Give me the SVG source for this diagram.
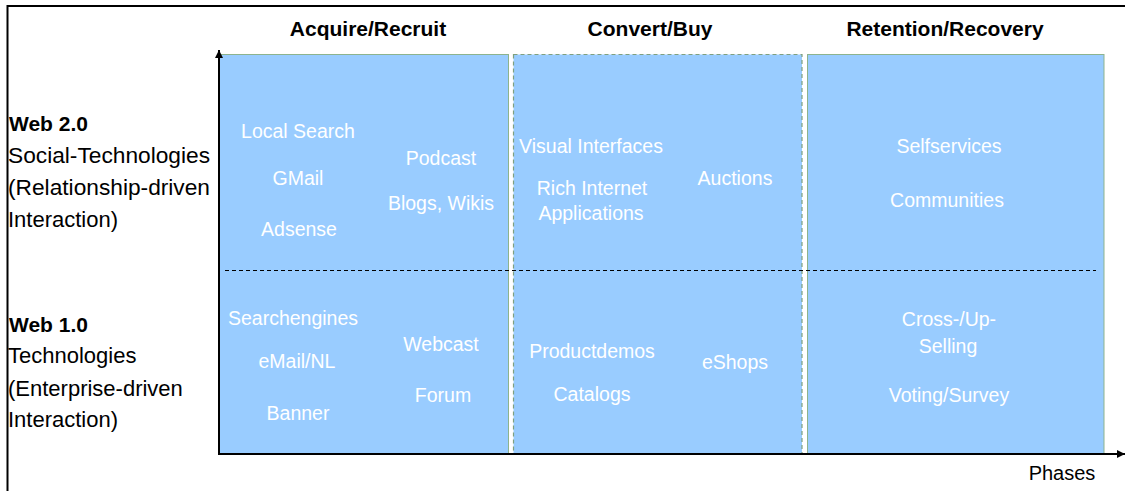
<svg xmlns="http://www.w3.org/2000/svg" width="1125" height="491" viewBox="0 0 1125 491">
<style>
.hdr{font-family:"Liberation Sans",Arial,sans-serif;font-weight:bold;font-size:21px;fill:#000;text-anchor:middle}
.lbl{font-family:"Liberation Sans",Arial,sans-serif;font-size:22px;fill:#000}
.lblb{font-family:"Liberation Sans",Arial,sans-serif;font-size:21px;font-weight:bold;fill:#000}
.in{font-family:"Liberation Sans",Arial,sans-serif;font-size:19.5px;fill:#fff;text-anchor:middle}
.ph{font-family:"Liberation Sans",Arial,sans-serif;font-size:20px;fill:#000;text-anchor:middle}
.box{fill:#99CCFF;stroke:#8DB38D;stroke-width:1}
.boxd{fill:#99CCFF;stroke:#7FA07F;stroke-width:1.2;stroke-dasharray:4 3}
</style>
<defs>
<marker id="ah" viewBox="0 0 10 10" refX="10" refY="5" markerWidth="8" markerHeight="8" markerUnits="userSpaceOnUse" orient="auto">
<path d="M0,0 L10,5 L0,10 z" fill="#000"/>
</marker>
</defs>
<rect width="1125" height="491" fill="#fff"/>
<g id="frame" stroke="#000" stroke-width="2" fill="none">
<line x1="7" y1="6" x2="1125" y2="6"/>
<line x1="7.5" y1="5" x2="7.5" y2="491"/>
</g>
<g id="headers">
<text class="hdr" x="368" y="36">Acquire/Recruit</text>
<text class="hdr" x="650" y="36">Convert/Buy</text>
<text class="hdr" x="945" y="36">Retention/Recovery</text>
</g>
<g id="row-web20">
<text class="lblb" x="9" y="131">Web 2.0</text>
<text class="lbl" x="8" y="163" textLength="202" lengthAdjust="spacingAndGlyphs">Social-Technologies</text>
<text class="lbl" x="8" y="195" textLength="202" lengthAdjust="spacingAndGlyphs">(Relationship-driven</text>
<text class="lbl" x="8" y="227">Interaction)</text>
</g>
<g id="row-web10">
<text class="lblb" x="9" y="332">Web 1.0</text>
<text class="lbl" x="8" y="363">Technologies</text>
<text class="lbl" x="8" y="396">(Enterprise-driven</text>
<text class="lbl" x="8" y="427">Interaction)</text>
</g>
<g id="box-acquire">
<rect class="box" x="219" y="54.5" width="289.5" height="399.5"/>
<text class="in" x="298" y="138">Local Search</text>
<text class="in" x="298" y="185">GMail</text>
<text class="in" x="299" y="236">Adsense</text>
<text class="in" x="441" y="165">Podcast</text>
<text class="in" x="441" y="210">Blogs, Wikis</text>
<text class="in" x="293" y="325">Searchengines</text>
<text class="in" x="297" y="368">eMail/NL</text>
<text class="in" x="298" y="420">Banner</text>
<text class="in" x="441" y="351">Webcast</text>
<text class="in" x="443" y="402">Forum</text>
</g>
<g id="box-convert">
<rect class="boxd" x="513.5" y="54.5" width="288.5" height="399.5"/>
<text class="in" x="591" y="153">Visual Interfaces</text>
<text class="in" x="592" y="195">Rich Internet</text>
<text class="in" x="591" y="220">Applications</text>
<text class="in" x="735" y="185">Auctions</text>
<text class="in" x="592" y="358">Productdemos</text>
<text class="in" x="592" y="401">Catalogs</text>
<text class="in" x="735" y="369">eShops</text>
</g>
<g id="box-retention">
<rect class="box" x="807.5" y="54.5" width="296.5" height="399.5"/>
<text class="in" x="949" y="153">Selfservices</text>
<text class="in" x="947" y="207">Communities</text>
<text class="in" x="949" y="326">Cross-/Up-</text>
<text class="in" x="948" y="353">Selling</text>
<text class="in" x="949" y="402">Voting/Survey</text>
</g>
<g id="connectors" fill="none" stroke="#000">
<line x1="225" y1="270.5" x2="1096" y2="270.5" stroke-width="1" stroke-dasharray="4 3"/>
<line x1="219" y1="455" x2="219" y2="50" stroke-width="2" marker-end="url(#ah)"/>
<line x1="218" y1="454" x2="1125" y2="454" stroke-width="2" marker-end="url(#ah)"/>
</g>
<text class="ph" x="1062" y="480">Phases</text>
</svg>
